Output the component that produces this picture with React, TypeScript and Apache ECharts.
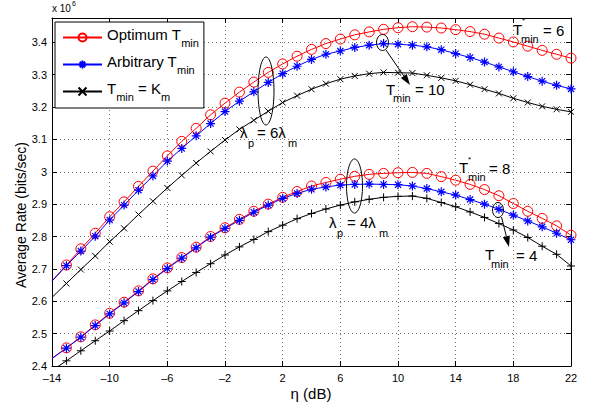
import React, { useEffect, useRef } from "react";
import * as echarts from "echarts";

// SNR axis values (dB)
const eta = [
  -14, -13, -12, -11, -10, -9, -8, -7, -6, -5, -4, -3, -2, -1, 0, 1, 2, 3, 4,
  5, 6, 7, 8, 9, 10, 11, 12, 13, 14, 15, 16, 17, 18, 19, 20, 21, 22,
];

// lambda_p = 6 lambda_m
const optHigh = [
  2.663, 2.712, 2.762, 2.81, 2.861, 2.907, 2.955, 3.002, 3.049, 3.094, 3.134,
  3.176, 3.212, 3.246, 3.277, 3.307, 3.333, 3.357, 3.378, 3.396, 3.41, 3.423,
  3.432, 3.44, 3.445, 3.448, 3.447, 3.444, 3.439, 3.433, 3.425, 3.413, 3.401,
  3.388, 3.375, 3.363, 3.351,
];
const arbHigh = [
  2.662, 2.71, 2.755, 2.801, 2.851, 2.897, 2.943, 2.987, 3.033, 3.072, 3.111,
  3.149, 3.186, 3.218, 3.247, 3.276, 3.303, 3.326, 3.347, 3.363, 3.373, 3.384,
  3.391, 3.396, 3.394, 3.391, 3.386, 3.377, 3.365, 3.353, 3.339, 3.324, 3.309,
  3.294, 3.28, 3.267, 3.256,
];
const kmHigh = [
  2.612, 2.655, 2.698, 2.74, 2.784, 2.825, 2.868, 2.909, 2.95, 2.989, 3.027,
  3.063, 3.098, 3.131, 3.159, 3.187, 3.214, 3.235, 3.255, 3.272, 3.286, 3.296,
  3.303, 3.307, 3.306, 3.305, 3.298, 3.29, 3.281, 3.269, 3.255, 3.242, 3.227,
  3.214, 3.202, 3.193, 3.185,
];

// lambda_p = 4 lambda_m
const optLow = [
  2.424, 2.456, 2.49, 2.527, 2.563, 2.597, 2.632, 2.669, 2.703, 2.735, 2.767,
  2.8, 2.827, 2.853, 2.878, 2.9, 2.921, 2.939, 2.956, 2.967, 2.977, 2.986,
  2.992, 2.995, 2.997, 2.998, 2.995, 2.985, 2.974, 2.961, 2.945, 2.926, 2.902,
  2.878, 2.856, 2.833, 2.804,
];
const arbLow = [
  2.423, 2.455, 2.489, 2.525, 2.561, 2.595, 2.63, 2.667, 2.701, 2.733, 2.765,
  2.798, 2.825, 2.85, 2.875, 2.897, 2.918, 2.933, 2.946, 2.953, 2.959, 2.961,
  2.962, 2.961, 2.96, 2.956, 2.948, 2.938, 2.928, 2.914, 2.9, 2.884, 2.866,
  2.848, 2.83, 2.81, 2.79,
];
const kmLow = [
  2.386, 2.416, 2.447, 2.478, 2.508, 2.54, 2.571, 2.602, 2.632, 2.661, 2.689,
  2.716, 2.743, 2.768, 2.791, 2.815, 2.835, 2.855, 2.871, 2.885, 2.897, 2.907,
  2.915, 2.921, 2.924, 2.925, 2.918, 2.905, 2.892, 2.876, 2.859, 2.84, 2.82,
  2.797, 2.77, 2.745, 2.709,
];

const xTicks = { min: -14, max: 22, step: 4 };
const yTicks = { min: 2.4, max: 3.475, step: 0.1 };

const FONT = "Liberation Sans, Arial, Helvetica, sans-serif";

const RING = "path://M0,5A5,5,0,1,0,10,5A5,5,0,1,0,0,5Z";
const STAR = "path://M5,0L5,10M0,5L10,5M1.6,1.6L8.4,8.4M1.6,8.4L8.4,1.6";
const CROSS = "path://M0,0L10,10M0,10L10,0";
const PLUS = "path://M5,0L5,10M0,5L10,5";

// first sample sits on the left frame and carries no marker
function toData(values: number[]) {
  return values.map((v, i) =>
    i === 0 ? { value: [eta[i], v], symbol: "none" } : { value: [eta[i], v] }
  );
}

function txt(x: number, y: number, text: string, size: number) {
  return {
    type: "text",
    x,
    y,
    z: 100,
    style: {
      text,
      fontSize: size,
      fontFamily: FONT,
      fill: "#000",
      align: "left",
      verticalAlign: "middle",
    },
  };
}

function arrow(x1: number, y1: number, x2: number, y2: number) {
  const a = Math.atan2(y2 - y1, x2 - x1);
  const len = 11;
  const half = 3.6;
  const bx = x2 - len * Math.cos(a);
  const by = y2 - len * Math.sin(a);
  const nx = -Math.sin(a);
  const ny = Math.cos(a);
  return [
    {
      type: "line",
      z: 100,
      shape: { x1, y1, x2: bx, y2: by },
      style: { stroke: "#000", lineWidth: 1 },
    },
    {
      type: "polygon",
      z: 100,
      shape: {
        points: [
          [x2, y2],
          [bx + nx * half, by + ny * half],
          [bx - nx * half, by - ny * half],
        ],
      },
      style: { fill: "#000" },
    },
  ];
}

function ellipse(cx: number, cy: number, rx: number, ry: number) {
  return {
    type: "ellipse",
    z: 100,
    shape: { cx, cy, rx, ry },
    style: { fill: "none", stroke: "#000", lineWidth: 1 },
  };
}

function lineSeries(
  name: string,
  values: number[],
  color: string,
  symbol: string,
  size: number,
  stroke: number
) {
  return {
    name,
    type: "line",
    data: toData(values),
    symbol,
    symbolSize: size,
    symbolKeepAspect: true,
    lineStyle: { color, width: 1 },
    itemStyle: {
      color: symbol === RING ? "rgba(0,0,0,0)" : color,
      borderColor: color,
      borderWidth: stroke,
    },
  };
}

export default function App() {
  const ref = useRef<HTMLDivElement>(null);

  useEffect(() => {
    if (!ref.current) return;
    const chart = echarts.init(ref.current, undefined, { renderer: "svg" });

    const frameAxis = {
      axisLine: { show: true, onZero: false, lineStyle: { color: "#000", width: 1 } },
      axisTick: { show: true, inside: true, length: 5, lineStyle: { color: "#000" } },
    };

    const legendNames: Record<string, string> = {
      opt: "{t|Optimum T}{s|min}",
      arb: "{t|Arbitrary T}{s|min}",
      km: "{t|T}{s|min}{t| = K}{s|m}",
    };

    const option = {
      animation: false,
      backgroundColor: "#fff",
      grid: { left: 52, right: 18, top: 18, bottom: 43, containLabel: false },
      xAxis: [
        {
          type: "value",
          position: "bottom",
          min: xTicks.min,
          max: xTicks.max,
          interval: xTicks.step,
          ...frameAxis,
          axisLabel: {
            color: "#000",
            fontSize: 11,
            fontFamily: FONT,
            margin: 6,
            formatter: (v: number) => (v < 0 ? "\u2013" + Math.abs(v) : String(v)),
          },
          splitLine: {
            show: true,
            lineStyle: { color: "#777", width: 1, type: [1, 3] },
          },
        },
        {
          type: "value",
          position: "top",
          min: xTicks.min,
          max: xTicks.max,
          interval: xTicks.step,
          ...frameAxis,
          axisLabel: { show: false },
          splitLine: { show: false },
        },
      ],
      yAxis: [
        {
          type: "value",
          position: "left",
          min: yTicks.min,
          max: yTicks.max,
          interval: yTicks.step,
          ...frameAxis,
          axisLabel: {
            color: "#000",
            fontSize: 11,
            fontFamily: FONT,
            margin: 5,
            showMaxLabel: false,
            formatter: (v: number) => String(Math.round(v * 10) / 10),
          },
          splitLine: {
            show: true,
            lineStyle: { color: "#777", width: 1, type: [1, 3] },
          },
        },
        {
          type: "value",
          position: "right",
          min: yTicks.min,
          max: yTicks.max,
          interval: yTicks.step,
          ...frameAxis,
          axisLabel: { show: false },
          splitLine: { show: false },
        },
      ],
      legend: {
        data: ["opt", "arb", "km"],
        orient: "vertical",
        left: 55,
        top: 22,
        itemWidth: 39,
        itemHeight: 10,
        itemGap: 6,
        padding: [5, 5, 6, 7],
        borderColor: "#000",
        borderWidth: 1,
        backgroundColor: "#fff",
        formatter: (name: string) => legendNames[name],
        textStyle: {
          color: "#000",
          fontFamily: FONT,
          rich: {
            t: {
              fontSize: 15,
              fontFamily: FONT,
              color: "#000",
              verticalAlign: "top",
              padding: [0, 0, 6, 0],
            },
            s: {
              fontSize: 11,
              fontFamily: FONT,
              color: "#000",
              verticalAlign: "bottom",
            },
          },
        },
      },
      series: [
        lineSeries("opt", optHigh, "#ff0000", RING, 10, 1),
        lineSeries("arb", arbHigh, "#0000ff", STAR, 9, 1.2),
        lineSeries("km", kmHigh, "#000000", CROSS, 6, 1),
        lineSeries("opt4", optLow, "#ff0000", RING, 10, 1),
        lineSeries("arb4", arbLow, "#0000ff", STAR, 9, 1.2),
        lineSeries("km4", kmLow, "#000000", PLUS, 8, 1),
      ],
      graphic: [
        // exponent above the y axis
        txt(52, 8, "x 10", 10),
        txt(72, 3, "6", 7),
        // y axis title
        {
          type: "text",
          x: 21,
          y: 215,
          rotation: Math.PI / 2,
          style: {
            text: "Average Rate (bits/sec)",
            fontSize: 14,
            fontFamily: FONT,
            fill: "#000",
            align: "center",
            verticalAlign: "middle",
          },
        },
        // x axis title
        {
          type: "text",
          x: 311,
          y: 393,
          style: {
            text: "\u03b7 (dB)",
            fontSize: 15,
            fontFamily: FONT,
            fill: "#000",
            align: "center",
            verticalAlign: "middle",
          },
        },
        // lambda_p = 6 lambda_m
        ellipse(266, 91, 8, 34),
        txt(240, 132, "\u03bb", 15),
        txt(248, 143, "p", 11),
        txt(257, 132, "= 6\u03bb", 15),
        txt(288, 143, "m", 11),
        // lambda_p = 4 lambda_m
        ellipse(354.5, 186, 8, 27),
        txt(329, 222, "\u03bb", 15),
        txt(337, 233, "p", 11),
        txt(347, 222, "= 4\u03bb", 15),
        txt(379, 233, "m", 11),
        // T_min = 10
        ellipse(382.5, 42.5, 6, 8),
        ...arrow(386, 50, 410, 85),
        txt(386, 89, "T", 15),
        txt(393, 98, "min", 11),
        txt(415, 89, "= 10", 15),
        // T*_min = 6
        txt(513, 29, "T", 15),
        txt(522, 20, "*", 8),
        txt(521, 39, "min", 11),
        txt(543, 30, "= 6", 15),
        // T*_min = 8
        txt(459, 167, "T", 15),
        txt(468, 159, "*", 8),
        txt(468, 177, "min", 11),
        txt(489, 168, "= 8", 15),
        // T_min = 4
        ellipse(498, 210, 5.5, 7.5),
        ...arrow(501.5, 217, 509, 247),
        txt(485, 254, "T", 15),
        txt(491, 264, "min", 11),
        txt(516, 255, "= 4", 15),
      ],
    };

    chart.setOption(option as any);
    return () => chart.dispose();
  }, []);

  return (
    <div
      ref={ref}
      style={{ position: "absolute", left: 0, top: 0, width: 589, height: 409 }}
    />
  );
}
